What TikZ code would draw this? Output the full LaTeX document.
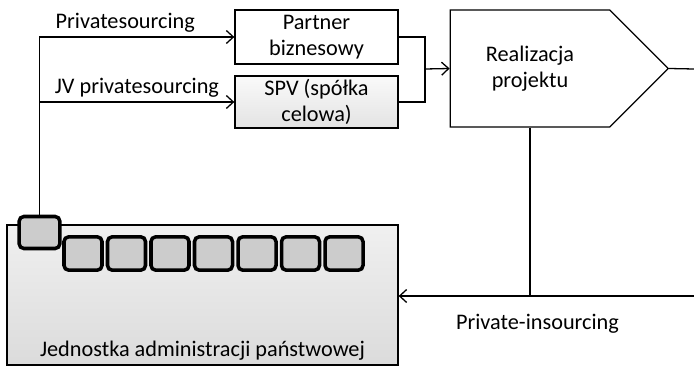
\documentclass[tikz,border=0pt]{standalone}
\usepackage{fontspec}
\setmainfont{Carlito}
\usetikzlibrary{shapes.symbols,positioning,arrows.meta}

\begin{document}
\begin{tikzpicture}[x=0.03cm, y=-0.03cm, font=\fontsize{19}{22}\selectfont,
    >={Straight Barb[length=6pt,width=11pt]},
    line/.style = {line width=1.1pt},
    box/.style = {draw, line width=1.1pt, minimum width=4.89cm, align=center, inner sep=1pt},
    cell/.style = {draw, line width=3pt, rounded corners=4pt, fill=gray!40,
                   minimum width=1.14cm, minimum height=1.0cm},
    signalbox/.style = {draw, line width=1.1pt, signal, signal to=east, signal pointer angle=90,
                        minimum width=6.54cm, minimum height=3.51cm, align=center}]
			\useasboundingbox (0,0) rectangle (694,368);
			\node[draw, line width=1.1pt, top color=gray!12, bottom color=gray!28,
			      minimum width=11.73cm, minimum height=4.2cm] (admin) at (202.5,295) {};
			\node[above=1pt of admin.south] (admintext) {Jednostka administracji państwowej};
			\node[cell, minimum width=1.22cm, minimum height=0.96cm] (small) at (39.5,232.5) {};
			\node[cell] (c1) at (83,253.5) {};
			\node[cell, right of=c1, node distance=1.305cm] (c2) {};
			\node[cell, right of=c2, node distance=1.305cm] (c3) {};
			\node[cell, right of=c3, node distance=1.305cm] (c4) {};
			\node[cell, right of=c4, node distance=1.305cm] (c5) {};
			\node[cell, right of=c5, node distance=1.305cm] (c6) {};
			\node[cell, right of=c6, node distance=1.305cm] (c7) {};
			\node[box, minimum height=1.62cm] (partner) at (316.5,37) {Partner\\biznesowy};
			\node[box, minimum height=1.56cm, top color=gray!4, bottom color=gray!22,
			      below of=partner, node distance=1.95cm] (spv) {SPV (spółka\\celowa)};
			\node[signalbox] (real) at (530,68.5) {Realizacja\\projektu};
			\coordinate (join) at (425,69);
			\coordinate (outR) at (694,69);
			\coordinate (loop) at (530,296);
			\coordinate (outB) at (694,296);
			\draw[line, ->] (small.north) |- (partner.west) node[pos=0.72,above] {Privatesourcing};
			\draw[line, ->] (small.north) |- (spv.west) node[pos=0.75,above] {JV privatesourcing};
			\draw[line] (partner.east) -| (join);
			\draw[line] (spv.east) -| (join);
			\draw[line, ->] (join) -- (real.west);
			\draw[line] (real.east) -- (outR);
			\draw[line] (loop |- real.south) -- (loop);
			\draw[line, ->] (outB) -- (admin.east |- outB) node[pos=0.53,below=12pt] {Private-insourcing};
		\end{tikzpicture}
\end{document}
